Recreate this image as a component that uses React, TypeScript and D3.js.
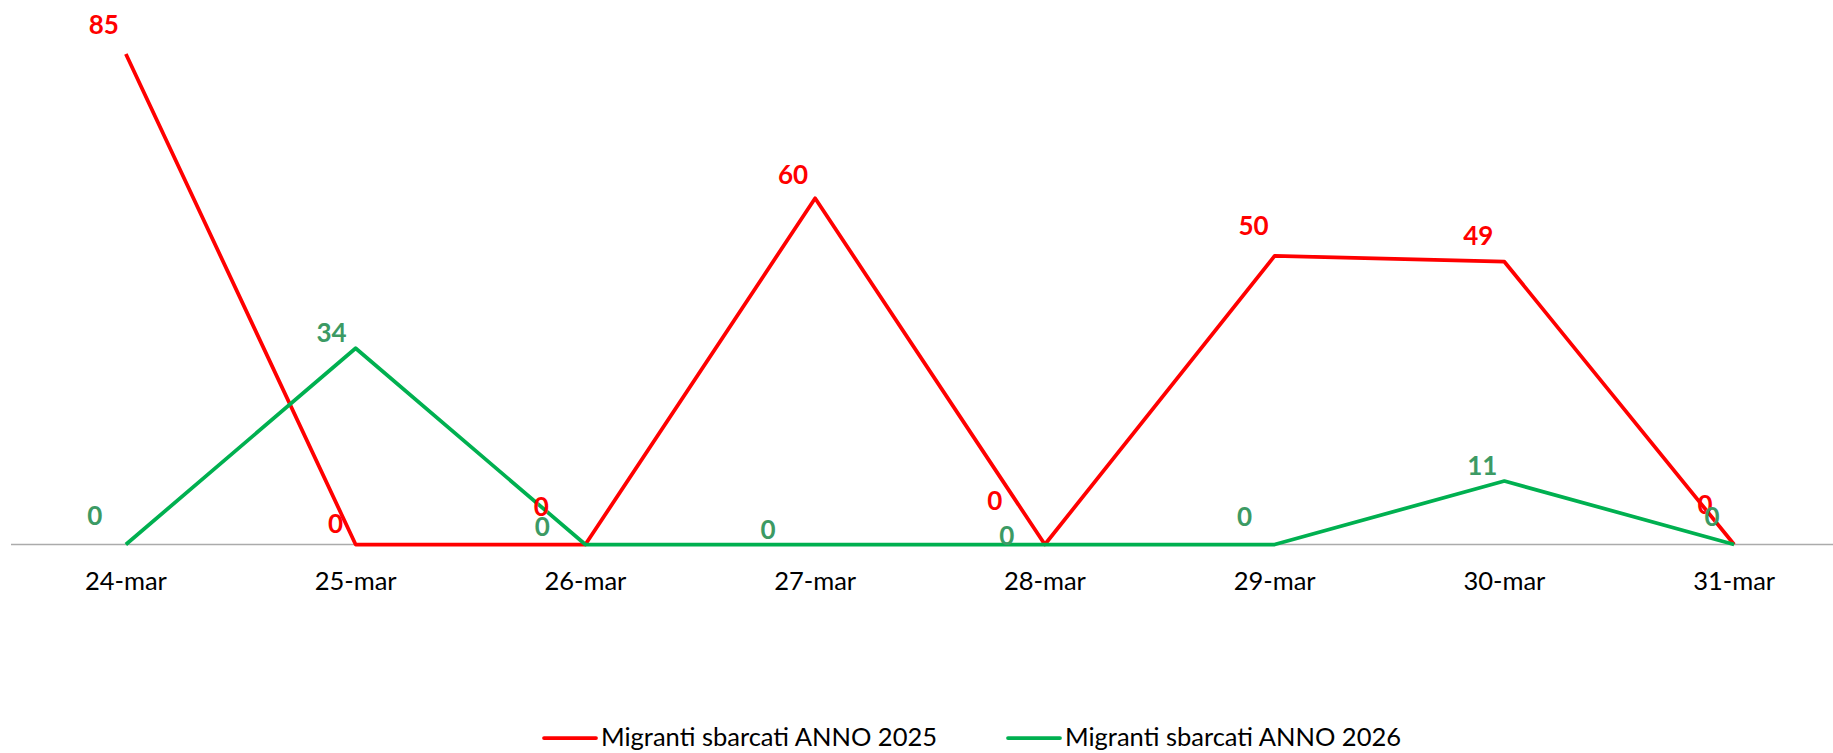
import React, { useEffect, useRef } from 'react';
import * as d3 from 'd3';

const categories = ['24-mar', '25-mar', '26-mar', '27-mar', '28-mar', '29-mar', '30-mar', '31-mar'];
const values2025 = [85, 0, 0, 60, 0, 50, 49, 0];
const values2026 = [0, 34, 0, 0, 0, 0, 11, 0];
const seriesNames = ['Migranti sbarcati ANNO 2025', 'Migranti sbarcati ANNO 2026'];

// label offsets (dx, dy from point to label centre), as dragged in the original
const offsets2025 = [[-22, -30], [-20, -22], [-44, -39], [-22, -24], [-50, -45], [-21, -31], [-26, -27], [-29, -41]];
const offsets2026 = [[-31, -30], [-24, -16], [-43, -19], [-47, -16], [-38, -10], [-30, -29], [-22, -16], [-22, -29]];

const FONT = 'Lato, "Open Sans", sans-serif';

function App() {
  const chartRef = useRef(null);

  useEffect(() => {
    document.body.style.margin = '0';
    createChart();
  }, []);

  const createChart = () => {
    d3.select(chartRef.current).selectAll('*').remove();

    const width = 1833;
    const height = 753;

    const svg = d3
      .select(chartRef.current)
      .append('svg')
      .attr('width', width)
      .attr('height', height)
      .style('display', 'block');

    const x = d3.scaleBand().domain(categories).range([11, 1849]);
    const y = d3.scaleLinear().domain([0, 90]).range([544.5, 544.5 - 90 * 5.771]);
    const cx = (c) => x(c) + x.bandwidth() / 2;

    // axis
    svg
      .append('line')
      .attr('x1', 11)
      .attr('x2', 1849)
      .attr('y1', y(0))
      .attr('y2', y(0))
      .attr('stroke', '#ababab')
      .attr('stroke-width', 1.5);

    svg
      .selectAll('.tick-label')
      .data(categories)
      .enter()
      .append('text')
      .attr('class', 'tick-label')
      .attr('x', (d) => cx(d))
      .attr('y', 580)
      .attr('text-anchor', 'middle')
      .attr('dominant-baseline', 'central')
      .attr('font-family', FONT)
      .attr('font-size', 25.5)
      .attr('fill', '#000')
      .text((d) => d);

    const series = [
      { values: values2025, color: '#ff0000', labelColor: '#ff0000', offsets: offsets2025 },
      { values: values2026, color: '#00b050', labelColor: '#3c9a64', offsets: offsets2026 },
    ];

    const line = d3
      .line()
      .x((d, i) => cx(categories[i]))
      .y((d) => y(d));

    series.forEach((s) => {
      svg
        .append('path')
        .attr('d', line(s.values))
        .attr('fill', 'none')
        .attr('stroke', s.color)
        .attr('stroke-width', 3.75)
        .attr('stroke-linejoin', 'round');
    });

    series.forEach((s) => {
      svg
        .selectAll(null)
        .data(s.values)
        .enter()
        .append('text')
        .attr('x', (d, i) => cx(categories[i]) + s.offsets[i][0])
        .attr('y', (d, i) => y(d) + s.offsets[i][1])
        .attr('text-anchor', 'middle')
        .attr('dominant-baseline', 'central')
        .attr('font-family', FONT)
        .attr('font-weight', 'bold')
        .attr('font-size', 26)
        .attr('fill', s.labelColor)
        .text((d) => d);
    });

    // legend
    const legend = [
      { name: seriesNames[0], color: '#ff0000', x: 544 },
      { name: seriesNames[1], color: '#00b050', x: 1008 },
    ];
    legend.forEach((l) => {
      svg
        .append('line')
        .attr('x1', l.x)
        .attr('x2', l.x + 52)
        .attr('y1', 738)
        .attr('y2', 738)
        .attr('stroke', l.color)
        .attr('stroke-width', 3.75)
        .attr('stroke-linecap', 'round');
      svg
        .append('text')
        .attr('x', l.x + 57)
        .attr('y', 736)
        .attr('dominant-baseline', 'central')
        .attr('font-family', FONT)
        .attr('font-size', 25.5)
        .attr('fill', '#000')
        .text(l.name);
    });
  };

  return <div ref={chartRef} />;
}

export default App;
